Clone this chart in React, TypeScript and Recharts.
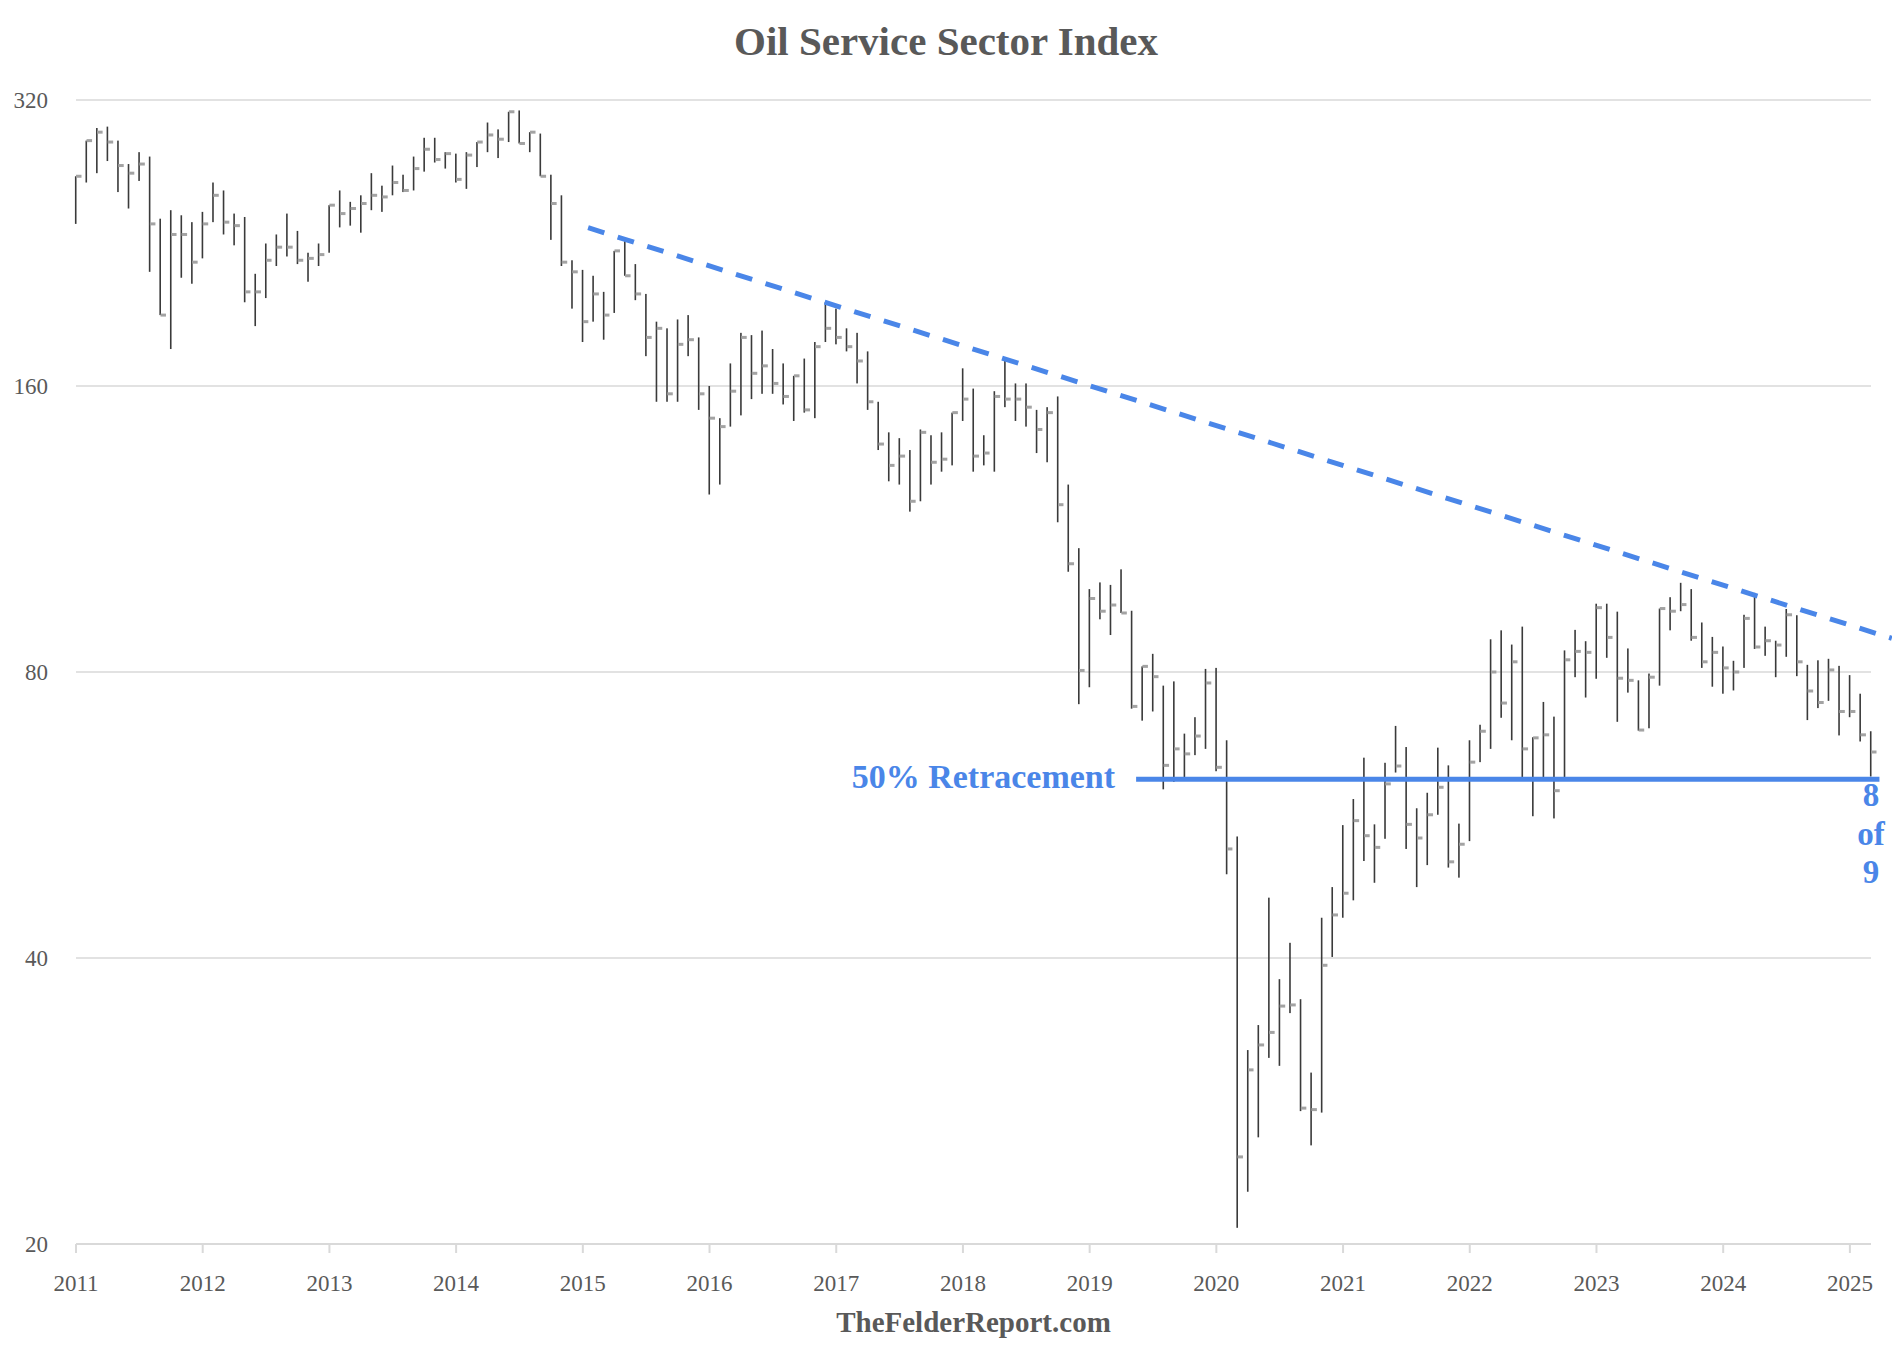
import React from 'react';
import {
  ComposedChart,
  Bar,
  Line,
  XAxis,
  YAxis,
  CartesianGrid,
  ReferenceLine,
  ReferenceDot,
} from 'recharts';

// ---- data (monthly bars, Jan 2011 .. Mar 2025) ----
const START_YEAR = 2011;

const HIGHS = [
  266, 290, 299, 300, 290, 274, 282, 279, 240, 245, 242, 238,
  244, 262, 257, 243, 241, 210, 226, 231, 243, 233, 221, 226,
  248, 257, 250, 254, 268, 260, 273, 267, 279, 292, 292, 282,
  281, 282, 289, 303, 298, 311, 312, 296, 295, 267, 254, 217,
  212, 209, 201, 222, 228, 215, 200, 187, 184, 188, 190, 180,
  160, 148, 169, 182, 181, 183, 175, 169, 164, 171, 178, 196,
  193, 184, 182, 174, 154, 143, 141, 137, 144, 142, 143, 150,
  167, 159, 142, 158, 171, 161, 161, 151, 152, 156, 126, 108,
  97.8, 99.4, 98.8, 102.6, 92.8, 81.1, 83.6, 77.4, 78.2, 68.9, 71.7, 80.6,
  80.8, 67.8, 53.7, 32.0, 34.0, 46.3, 38.0, 41.5, 36.2, 30.3, 44.1, 47.5,
  55.2, 58.8, 65.0, 55.3, 64.2, 70.2, 66.7, 57.5, 59.7, 66.6, 63.8, 55.4,
  67.8, 70.4, 86.6, 88.5, 85.5, 89.3, 68.3, 74.4, 71.8, 84.3, 88.6, 86.2,
  94.4, 94.4, 92.6, 84.7, 78.4, 79.7, 93.3, 95.9, 99.3, 97.8, 90.2, 87.1,
  85.1, 82.2, 91.9, 96.9, 89.3, 86.3, 93.2, 91.8, 81.4, 82.3, 82.6, 81.2,
  79.4, 75.9, 69.3,
];

const LOWS = [
  237, 262, 268, 276, 256, 246, 263, 211, 190, 175, 208, 205,
  218, 238, 231, 225, 196, 185, 198, 214, 219, 215, 206, 214,
  221, 235, 236, 232, 245, 244, 254, 256, 257, 269, 275, 271,
  262, 258, 272, 282, 278, 289, 288, 282, 266, 228, 214, 193,
  178, 187, 179, 191, 209, 197, 172, 154, 154, 154, 172, 151,
  123, 126, 145, 149, 155, 157, 157, 153, 147, 150, 148, 178,
  177, 174, 161, 151, 137, 127, 126, 118, 121, 126, 130, 132,
  147, 130, 132, 130, 152, 147, 145, 136, 133, 115, 102, 74,
  77.1, 90.9, 87.5, 92.3, 73.2, 71.1, 72.7, 60.2, 61.3, 61.5, 65.4, 66.4,
  62.9, 49.0, 20.8, 22.7, 25.9, 31.4, 30.8, 35.0, 27.6, 25.4, 27.5, 40.1,
  44.1, 46.0, 50.6, 48.0, 53.4, 62.7, 52.1, 47.5, 50.1, 56.6, 49.8, 48.6,
  53.1, 64.3, 66.4, 71.6, 67.8, 61.8, 56.4, 61.9, 56.1, 61.8, 79.0, 75.2,
  78.7, 82.8, 70.9, 76.1, 69.4, 69.8, 77.4, 88.5, 92.7, 86.3, 80.8, 77.2,
  75.9, 76.5, 80.8, 84.6, 83.2, 79.0, 83.0, 79.2, 71.2, 73.3, 74.6, 68.6,
  71.7, 67.6, 62.1,
];

const CLOSES = [
  266, 290, 296, 289, 273, 268, 274, 237, 190, 231, 231, 216,
  237, 254, 238, 236, 201, 201, 217, 224, 224, 217, 218, 220,
  248, 243, 246, 249, 254, 253, 262, 257, 271, 284, 277, 281,
  264, 280, 289, 294, 291, 311, 288, 296, 266, 249, 216, 211,
  187, 200, 190, 222, 209, 200, 180, 184, 157, 177, 179, 157,
  148, 145, 158, 180, 165, 168, 161, 156, 164, 151, 176, 184,
  180, 176, 170, 154, 139, 132, 135, 121, 143, 133, 134, 150,
  155, 135, 136, 156, 155, 155, 152, 144, 150, 120, 104, 80.3,
  95.6, 92.7, 94.1, 92.3, 73.6, 81.1, 79.1, 63.8, 66.4, 65.6, 68.5, 77.9,
  63.5, 52.1, 24.7, 30.5, 32.4, 33.4, 35.6, 35.7, 27.8, 27.7, 39.3, 44.4,
  46.8, 55.8, 53.8, 52.3, 61.0, 63.7, 55.3, 53.5, 56.6, 60.5, 50.5, 52.7,
  64.3, 69.3, 80.0, 74.2, 82.0, 66.4, 68.2, 68.7, 60.0, 82.4, 84.1, 83.9,
  93.5, 87.0, 78.8, 78.4, 69.5, 79.0, 93.3, 92.7, 94.2, 87.0, 82.0, 83.9,
  80.8, 80.0, 91.1, 85.0, 86.3, 85.4, 91.9, 82.0, 76.4, 74.3, 80.4, 72.7,
  72.7, 68.7, 65.9,
];

const YEAR_TICKS = [2011, 2012, 2013, 2014, 2015, 2016, 2017, 2018, 2019, 2020, 2021, 2022, 2023, 2024, 2025];
const PRICE_TICKS = [20, 40, 80, 160, 320];

// trend line (months since Jan 2011, index value)
const TREND_START = { month: 48.5, value: 234.8 };
const TREND_END = { month: 171.97, value: 86.8 };

// 50% retracement level
const RETRACE_LEVEL = 61.7;
const RETRACE_FROM = 100.4;
const RETRACE_TO = 170.8;
const COUNT_LABEL = ['8', 'of', '9'];

const TITLE = 'Oil Service Sector Index';
const FOOTER = 'TheFelderReport.com';
const RETRACE_TEXT = '50% Retracement';

// ---- layout / style ----
const W = 1892;
const H = 1368;
const PLOT_LEFT = 76;
const PLOT_RIGHT = 1871;
const PLOT_TOP = 100;
const PLOT_BOTTOM = 1244;
const X_AXIS_H = 60;
const FONT = "'Liberation Serif', 'Times New Roman', serif";
const TEXT_GRAY = '#595959';
const GRID = '#d9d9d9';
const BLUE = '#4a86e8';

const data = HIGHS.map((h, i) => ({
  m: i,
  range: [LOWS[i], h],
  close: CLOSES[i],
}));

const lastMonth = HIGHS.length - 1;

const BarShape = (p: any) => {
  if (p.x == null || p.y == null) return null;
  const cx = p.x + p.width / 2;
  return <rect x={cx - 0.8} y={p.y} width={1.6} height={Math.max(1, p.height)} fill="#3a3a3a" />;
};

const CloseDot = (p: any) => {
  if (p.cx == null || p.cy == null) return <g key={p.index} />;
  return <rect key={p.index} x={p.cx} y={p.cy - 1.5} width={5.5} height={3} fill="#a3a3a3" />;
};

const XTick = (p: any) => (
  <text x={p.x} y={p.y + 36} textAnchor="middle" fontFamily={FONT} fontSize={23} fill={TEXT_GRAY}>
    {String(START_YEAR + Math.round(p.payload.value / 12))}
  </text>
);

const YTick = (p: any) => (
  <text x={PLOT_LEFT - 28} y={p.y + 8} textAnchor="end" fontFamily={FONT} fontSize={23} fill={TEXT_GRAY}>
    {String(p.payload.value)}
  </text>
);

const RetraceLabel = (p: any) => {
  const vb = p.viewBox || {};
  const cx = (vb.x ?? 0) + (vb.width ?? 0) / 2;
  const cy = (vb.y ?? 0) + (vb.height ?? 0) / 2;
  return (
    <text x={cx - 21} y={cy + 8.5} textAnchor="end" fontFamily={FONT} fontWeight="bold" fontSize={34} fill={BLUE}>
      {RETRACE_TEXT}
    </text>
  );
};

const CountLabel = (p: any) => {
  const vb = p.viewBox || {};
  const cx = (vb.x ?? 0) + (vb.width ?? 0) / 2;
  const cy = (vb.y ?? 0) + (vb.height ?? 0) / 2;
  const offs = [27, 66, 104];
  return (
    <g>
      {COUNT_LABEL.map((t, i) => (
        <text key={i} x={cx} y={cy + offs[i]} textAnchor="middle" fontFamily={FONT} fontWeight="bold" fontSize={33} fill={BLUE}>
          {t}
        </text>
      ))}
    </g>
  );
};

export default function App() {
  const xTicks = YEAR_TICKS.map((y) => (y - START_YEAR) * 12);
  return (
    <div style={{ position: 'absolute', left: 0, top: 0, width: W, height: H, background: '#fff' }}>
      <ComposedChart
        width={W}
        height={H}
        data={data}
        margin={{ top: PLOT_TOP, right: W - PLOT_RIGHT, bottom: H - PLOT_BOTTOM - X_AXIS_H, left: 0 }}
      >
        <CartesianGrid vertical={false} stroke={GRID} strokeWidth={1.3} />
        <XAxis
          type="number"
          dataKey="m"
          domain={[0, lastMonth]}
          ticks={xTicks}
          interval={0}
          height={X_AXIS_H}
          axisLine={{ stroke: GRID, strokeWidth: 2 }}
          tickLine={{ stroke: GRID, strokeWidth: 2 }}
          tickSize={9}
          tick={<XTick />}
        />
        <YAxis
          scale="log"
          domain={[PRICE_TICKS[0], PRICE_TICKS[PRICE_TICKS.length - 1]]}
          allowDataOverflow
          ticks={PRICE_TICKS}
          interval={0}
          width={PLOT_LEFT}
          axisLine={false}
          tickLine={false}
          tick={<YTick />}
        />
        <Bar dataKey="range" barSize={2} shape={BarShape} isAnimationActive={false} />
        <Line
          dataKey="close"
          stroke="none"
          dot={CloseDot}
          activeDot={false}
          isAnimationActive={false}
        />
        <ReferenceLine
          segment={[
            { x: TREND_START.month, y: TREND_START.value },
            { x: TREND_END.month, y: TREND_END.value },
          ]}
          stroke={BLUE}
          strokeWidth={5}
          strokeDasharray="17 14"
          ifOverflow="visible"
        />
        <ReferenceLine
          segment={[
            { x: RETRACE_FROM, y: RETRACE_LEVEL },
            { x: RETRACE_TO, y: RETRACE_LEVEL },
          ]}
          stroke={BLUE}
          strokeWidth={5}
          ifOverflow="visible"
        />
        <ReferenceDot
          x={RETRACE_FROM}
          y={RETRACE_LEVEL}
          r={1}
          fill="none"
          stroke="none"
          ifOverflow="visible"
          label={{ content: RetraceLabel }}
        />
        <ReferenceDot
          x={lastMonth}
          y={RETRACE_LEVEL}
          r={1}
          fill="none"
          stroke="none"
          ifOverflow="visible"
          label={{ content: CountLabel }}
        />
      </ComposedChart>
      <svg
        width={W}
        height={H}
        style={{ position: 'absolute', left: 0, top: 0, pointerEvents: 'none' }}
      >
        <text x={W / 2} y={55} textAnchor="middle" fontFamily={FONT} fontWeight="bold" fontSize={41} fill={TEXT_GRAY}>
          {TITLE}
        </text>
        <text
          x={(PLOT_LEFT + PLOT_RIGHT) / 2}
          y={1332}
          textAnchor="middle"
          fontFamily={FONT}
          fontWeight="bold"
          fontSize={29}
          fill={TEXT_GRAY}
        >
          {FOOTER}
        </text>
      </svg>
    </div>
  );
}
